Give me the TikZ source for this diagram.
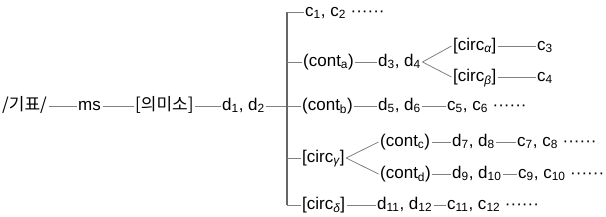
\documentclass[tikz,border=0pt]{standalone}
\usepackage{fontspec}
\setmainfont{Liberation Sans}
\newfontfamily\kr{Noto Sans CJK KR}
\tikzset{
  t/.style={inner xsep=1.5pt, inner ysep=0pt, anchor=west, text height=12pt, text depth=3.2pt, font=\fontsize{17}{20}\selectfont},
  ln/.style={draw=black!50, line width=0.8pt},
  trunkline/.style={draw=black!60, line width=1.2pt}
}
\begin{document}
\begin{tikzpicture}[x=1pt,y=1pt]
\useasboundingbox (0,0) rectangle (606,-217);
\node[t] (sig) at (0.5,-106) {{\kr /기표/}};
\node[t] (ms) at (76.5,-106) {ms};
\node[t] (sem) at (133.5,-106) {{\kr [의미소]}};
\node[t] (d12) at (220.5,-106) {d\textsubscript{1}, d\textsubscript{2}};
\coordinate (tt) at (287,-12);
\coordinate (tb) at (287,-205);
\node[t] (c12) at (303.5,-12) {c\textsubscript{1}, c\textsubscript{2} ······};
\node[t] (conta) at (301.5,-62) {(cont\textsubscript{a})};
\node[t] (d34) at (376.5,-62) {d\textsubscript{3}, d\textsubscript{4}};
\node[t] (ca) at (451.5,-46) {[circ\textsubscript{\itshape α}]};
\node[t] (c3) at (535.5,-46) {c\textsubscript{3}};
\node[t] (cb) at (451.5,-77) {[circ\textsubscript{\itshape β}]};
\node[t] (c4) at (535.5,-77) {c\textsubscript{4}};
\node[t] (contb) at (300.5,-106) {(cont\textsubscript{b})};
\node[t] (d56) at (376.5,-106) {d\textsubscript{5}, d\textsubscript{6}};
\node[t] (c56) at (445.5,-106) {c\textsubscript{5}, c\textsubscript{6} ······};
\node[t] (cg) at (300.5,-158) {[circ\textsubscript{\itshape γ}]};
\node[t] (contc) at (378.5,-142) {(cont\textsubscript{c})};
\node[t] (d78) at (450.5,-142) {d\textsubscript{7}, d\textsubscript{8}};
\node[t] (c78) at (515.5,-142) {c\textsubscript{7}, c\textsubscript{8} ······};
\node[t] (contd) at (378.5,-174) {(cont\textsubscript{d})};
\node[t] (d910) at (450.5,-174) {d\textsubscript{9}, d\textsubscript{10}};
\node[t] (c910) at (516.5,-174) {c\textsubscript{9}, c\textsubscript{10} ······};
\node[t] (cd) at (300.5,-205) {[circ\textsubscript{\itshape δ}]};
\node[t] (d1112) at (375.5,-205) {d\textsubscript{11}, d\textsubscript{12}};
\node[t] (c1112) at (445.5,-205) {c\textsubscript{11}, c\textsubscript{12} ······};
% main row
\draw[ln] (sig.east) -- (ms.west);
\draw[ln] (ms.east) -- (sem.west);
\draw[ln] (sem.east) -- (d12.west);
\draw[ln] (d12.east) -- (contb.west);
% trunk
\draw[trunkline] (tt) -- (tb);
\draw[ln] (tt) -- (c12.west);
\draw[ln] (tt |- conta.west) -- (conta.west);
\draw[ln] (tt |- cg.west) -- (cg.west);
\draw[ln] (tb) -- (cd.west);
% branches
\draw[ln] (conta.east) -- (d34.west);
\draw[ln] (d34.east) -- (ca.west);
\draw[ln] (d34.east) -- (cb.west);
\draw[ln] (ca.east) -- (c3.west);
\draw[ln] (cb.east) -- (c4.west);
\draw[ln] (contb.east) -- (d56.west);
\draw[ln] (d56.east) -- (c56.west);
\draw[ln] (cg.east) -- (contc.west);
\draw[ln] (cg.east) -- (contd.west);
\draw[ln] (contc.east) -- (d78.west);
\draw[ln] (d78.east) -- (c78.west);
\draw[ln] (contd.east) -- (d910.west);
\draw[ln] (d910.east) -- (c910.west);
\draw[ln] (cd.east) -- (d1112.west);
\draw[ln] (d1112.east) -- (c1112.west);
\end{tikzpicture}
\end{document}
